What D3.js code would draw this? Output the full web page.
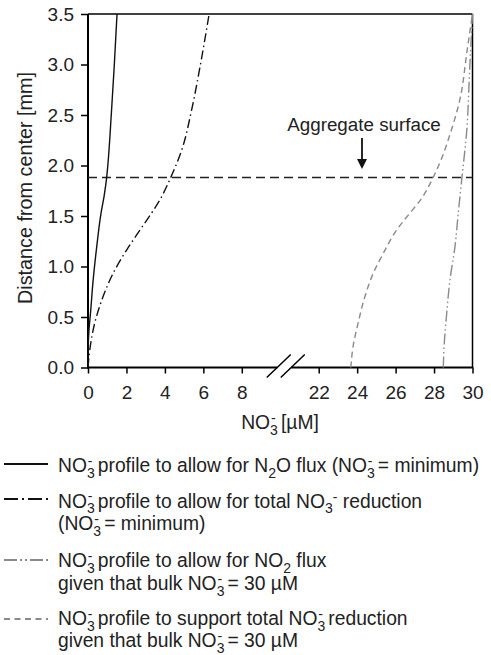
<!DOCTYPE html>
<html>
<head>
<meta charset="utf-8">
<script src="https://cdn.jsdelivr.net/npm/d3@7"></script>
<style>
  html, body { margin: 0; padding: 0; background: #fff; }
  svg { display: block; font-family: "Liberation Sans", Arial, Helvetica, sans-serif; }
</style>
</head>
<body>
<svg id="chart" width="491" height="655"></svg>
<script>
// Radial nitrate profiles: distance from the aggregate centre [mm] vs NO3- [µM]
const depthN2O = [0, 0.2, 0.37, 0.54, 0.87, 1.19, 1.53, 1.7, 1.88, 2.0, 2.5, 3.0, 3.5];
const concN2O  = [0, 0.01, 0.05, 0.13, 0.27, 0.45, 0.68, 0.84, 0.97, 1.03, 1.21, 1.37, 1.51];

const depthTotalMin = [0, 0.17, 0.44, 0.70, 0.93, 1.16, 1.36, 1.53, 1.66, 1.88, 2.15, 2.55, 2.98, 3.5];
const concTotalMin  = [0, 0.09, 0.35, 0.78, 1.30, 2.0, 2.70, 3.31, 3.74, 4.3, 4.87, 5.39, 5.83, 6.3];

const depthNO2Bulk = [0, 0.2, 0.54, 0.87, 1.2, 1.53, 1.88, 2.32, 2.98, 3.5];
const concNO2Bulk  = [28.48, 28.52, 28.66, 28.83, 29.09, 29.26, 29.45, 29.69, 29.86, 30];

const depthTotalBulk = [0, 0.21, 0.44, 0.70, 0.93, 1.13, 1.36, 1.53, 1.66, 1.88, 2.05, 2.32, 2.65, 3.14, 3.5];
const concTotalBulk  = [23.67, 23.79, 24.05, 24.4, 24.83, 25.36, 26.05, 26.75, 27.3, 27.95, 28.35, 28.85, 29.34, 29.72, 30];

const aggregateSurface = 1.88;

const xTicks = [0, 2, 4, 6, 8, 22, 24, 26, 28, 30];
const yTicks = [0, 0.5, 1.0, 1.5, 2.0, 2.5, 3.0, 3.5];

// Legend entries; "%" = stacked NO3 charge/subscript, "_x" = subscript, "^x" = superscript
const legendLabels = [
  ["NO% profile to allow for N_2O flux (NO% = minimum)"],
  ["NO% profile to allow for total NO_3^- reduction", "(NO% = minimum)"],
  ["NO% profile to allow for NO_2 flux", "given that bulk NO% = 30 µM"],
  ["NO% profile to support total NO% reduction", "given that bulk NO% = 30 µM"]
];

const svg = d3.select("#chart");
const plotL = 88, plotR = 472.5, plotT = 14, plotB = 367.5;
const breakX = (plotL + plotR) / 2;

// Broken x axis: 0–10 on the left half, 20–30 on the right half
const x = d3.scaleLinear().domain([0, 10, 20, 30]).range([plotL, breakX, breakX, plotR]);
const y = d3.scaleLinear().domain([0, 3.5]).range([plotB, plotT]);

const FS = 19.3;      // legend / titles
const TICK_FS = 19;   // tick labels

// text with sub/superscripts
function rich(sel, str, size) {
  const subSize = Math.round(size * 0.72);
  let i = 0, buf = "", shift = 0;
  const flush = () => {
    if (buf) { sel.append("tspan").attr("dy", shift ? -shift : null).text(buf); shift = 0; buf = ""; }
  };
  while (i < str.length) {
    const c = str[i];
    if (c === "%") {
      flush();
      sel.append("tspan").attr("font-size", subSize).attr("dy", size * 0.3).text("3");
      sel.append("tspan").attr("font-size", subSize).attr("dx", -subSize * 0.5).attr("dy", -size * 0.62).text("-");
      shift = -size * 0.32;
      i++;
    } else if (c === "_") {
      flush();
      sel.append("tspan").attr("font-size", subSize).attr("dy", size * 0.3).text(str[i + 1]);
      shift = size * 0.3; i += 2;
    } else if (c === "^") {
      flush();
      sel.append("tspan").attr("font-size", subSize).attr("dy", -size * 0.3 - shift).text(str[i + 1]);
      shift = -size * 0.3; i += 2;
    } else { buf += c; i++; }
  }
  flush();
}

// axes
const yAxis = d3.axisLeft(y).tickValues(yTicks).tickFormat(d3.format(".1f")).tickSize(7).tickPadding(7);
const gy = svg.append("g").attr("transform", `translate(${plotL},0)`).call(yAxis);
gy.select(".domain").remove();
gy.selectAll("line").attr("stroke", "#000").attr("stroke-width", 1.5);
gy.selectAll("text").attr("font-size", TICK_FS).attr("fill", "#222").attr("font-family", "Liberation Sans, Arial, sans-serif");

const xAxis = d3.axisBottom(x).tickValues(xTicks).tickFormat(d3.format("d")).tickSize(6).tickPadding(12);
const gx = svg.append("g").attr("transform", `translate(0,${plotB})`).call(xAxis);
gx.select(".domain").remove();
gx.selectAll("line").attr("stroke", "#000").attr("stroke-width", 1.5);
gx.selectAll("text").attr("font-size", TICK_FS).attr("fill", "#222").attr("font-family", "Liberation Sans, Arial, sans-serif");

// frame
const frame = svg.append("g").attr("stroke", "#000").attr("fill", "none");
frame.append("line").attr("x1", plotL).attr("x2", plotR).attr("y1", plotT).attr("y2", plotT).attr("stroke-width", 1.5);
frame.append("line").attr("x1", plotR).attr("x2", plotR).attr("y1", plotT).attr("y2", plotB).attr("stroke-width", 1.5);
frame.append("line").attr("x1", plotL).attr("x2", plotL).attr("y1", plotT).attr("y2", plotB + 0.5).attr("stroke-width", 2);
const gapL = breakX - 3, gapR = breakX + 11;
frame.append("line").attr("x1", plotL - 1).attr("x2", gapL).attr("y1", plotB).attr("y2", plotB).attr("stroke-width", 1.8);
frame.append("line").attr("x1", gapR).attr("x2", plotR + 0.75).attr("y1", plotB).attr("y2", plotB).attr("stroke-width", 1.8);
[gapL, gapR].forEach(cx => {
  frame.append("line")
    .attr("x1", cx - 10.5).attr("y1", plotB + 10)
    .attr("x2", cx + 13.5).attr("y2", plotB - 13)
    .attr("stroke-width", 1.5);
});

// aggregate surface
svg.append("line")
  .attr("x1", plotL).attr("x2", plotR)
  .attr("y1", y(aggregateSurface)).attr("y2", y(aggregateSurface))
  .attr("stroke", "#222").attr("stroke-width", 1.5).attr("stroke-dasharray", "9,5");

svg.append("text").attr("x", 364).attr("y", 131).attr("text-anchor", "middle")
  .attr("font-size", 18.8).attr("fill", "#222").text("Aggregate surface");
svg.append("line").attr("x1", 362).attr("x2", 362).attr("y1", 138).attr("y2", 160)
  .attr("stroke", "#111").attr("stroke-width", 1.8);
svg.append("path").attr("d", "M357,159 L367,159 L362,169 Z").attr("fill", "#111");

// profiles
const line = d3.line().x(d => x(d[1])).y(d => y(d[0])).curve(d3.curveMonotoneY);
const series = [
  { depth: depthN2O, conc: concN2O, color: "#111", dash: null, legendDash: null },
  { depth: depthTotalMin, conc: concTotalMin, color: "#111", dash: "9,3.5,1.5,3.5", legendDash: "14,4,2,4" },
  { depth: depthNO2Bulk, conc: concNO2Bulk, color: "#8a8a8a", dash: "11,3,1.5,3,1.5,3", legendDash: "13,3,2,3,2,3" },
  { depth: depthTotalBulk, conc: concTotalBulk, color: "#8a8a8a", dash: "6,4", legendDash: "6,4.5" }
];
series.forEach(s => {
  svg.append("path")
    .datum(d3.zip(s.depth, s.conc))
    .attr("d", line)
    .attr("fill", "none")
    .attr("stroke", s.color)
    .attr("stroke-width", 1.4)
    .attr("stroke-dasharray", s.dash);
});

// axis titles
svg.append("text").attr("transform", `translate(32,188) rotate(-90)`)
  .attr("text-anchor", "middle").attr("font-size", 19.8).attr("fill", "#222")
  .text("Distance from center [mm]");

const xt = svg.append("text").attr("x", 280).attr("y", 429).attr("text-anchor", "middle")
  .attr("font-size", FS).attr("fill", "#222");
rich(xt, "NO% [µM]", FS);

// legend
const legendRows = [
  { lineY: 464, base: [472] },
  { lineY: 499, base: [507.5, 530] },
  { lineY: 560, base: [567, 590] },
  { lineY: 619, base: [625, 647] }
];
legendRows.forEach((r, i) => {
  svg.append("line").attr("x1", 4).attr("x2", 48).attr("y1", r.lineY).attr("y2", r.lineY)
    .attr("stroke", series[i].color).attr("stroke-width", 2)
    .attr("stroke-dasharray", series[i].legendDash);
  legendLabels[i].forEach((txt, j) => {
    const t = svg.append("text").attr("x", 58).attr("y", r.base[j])
      .attr("font-size", FS).attr("fill", "#222");
    rich(t, txt, FS);
  });
});
</script>
</body>
</html>
